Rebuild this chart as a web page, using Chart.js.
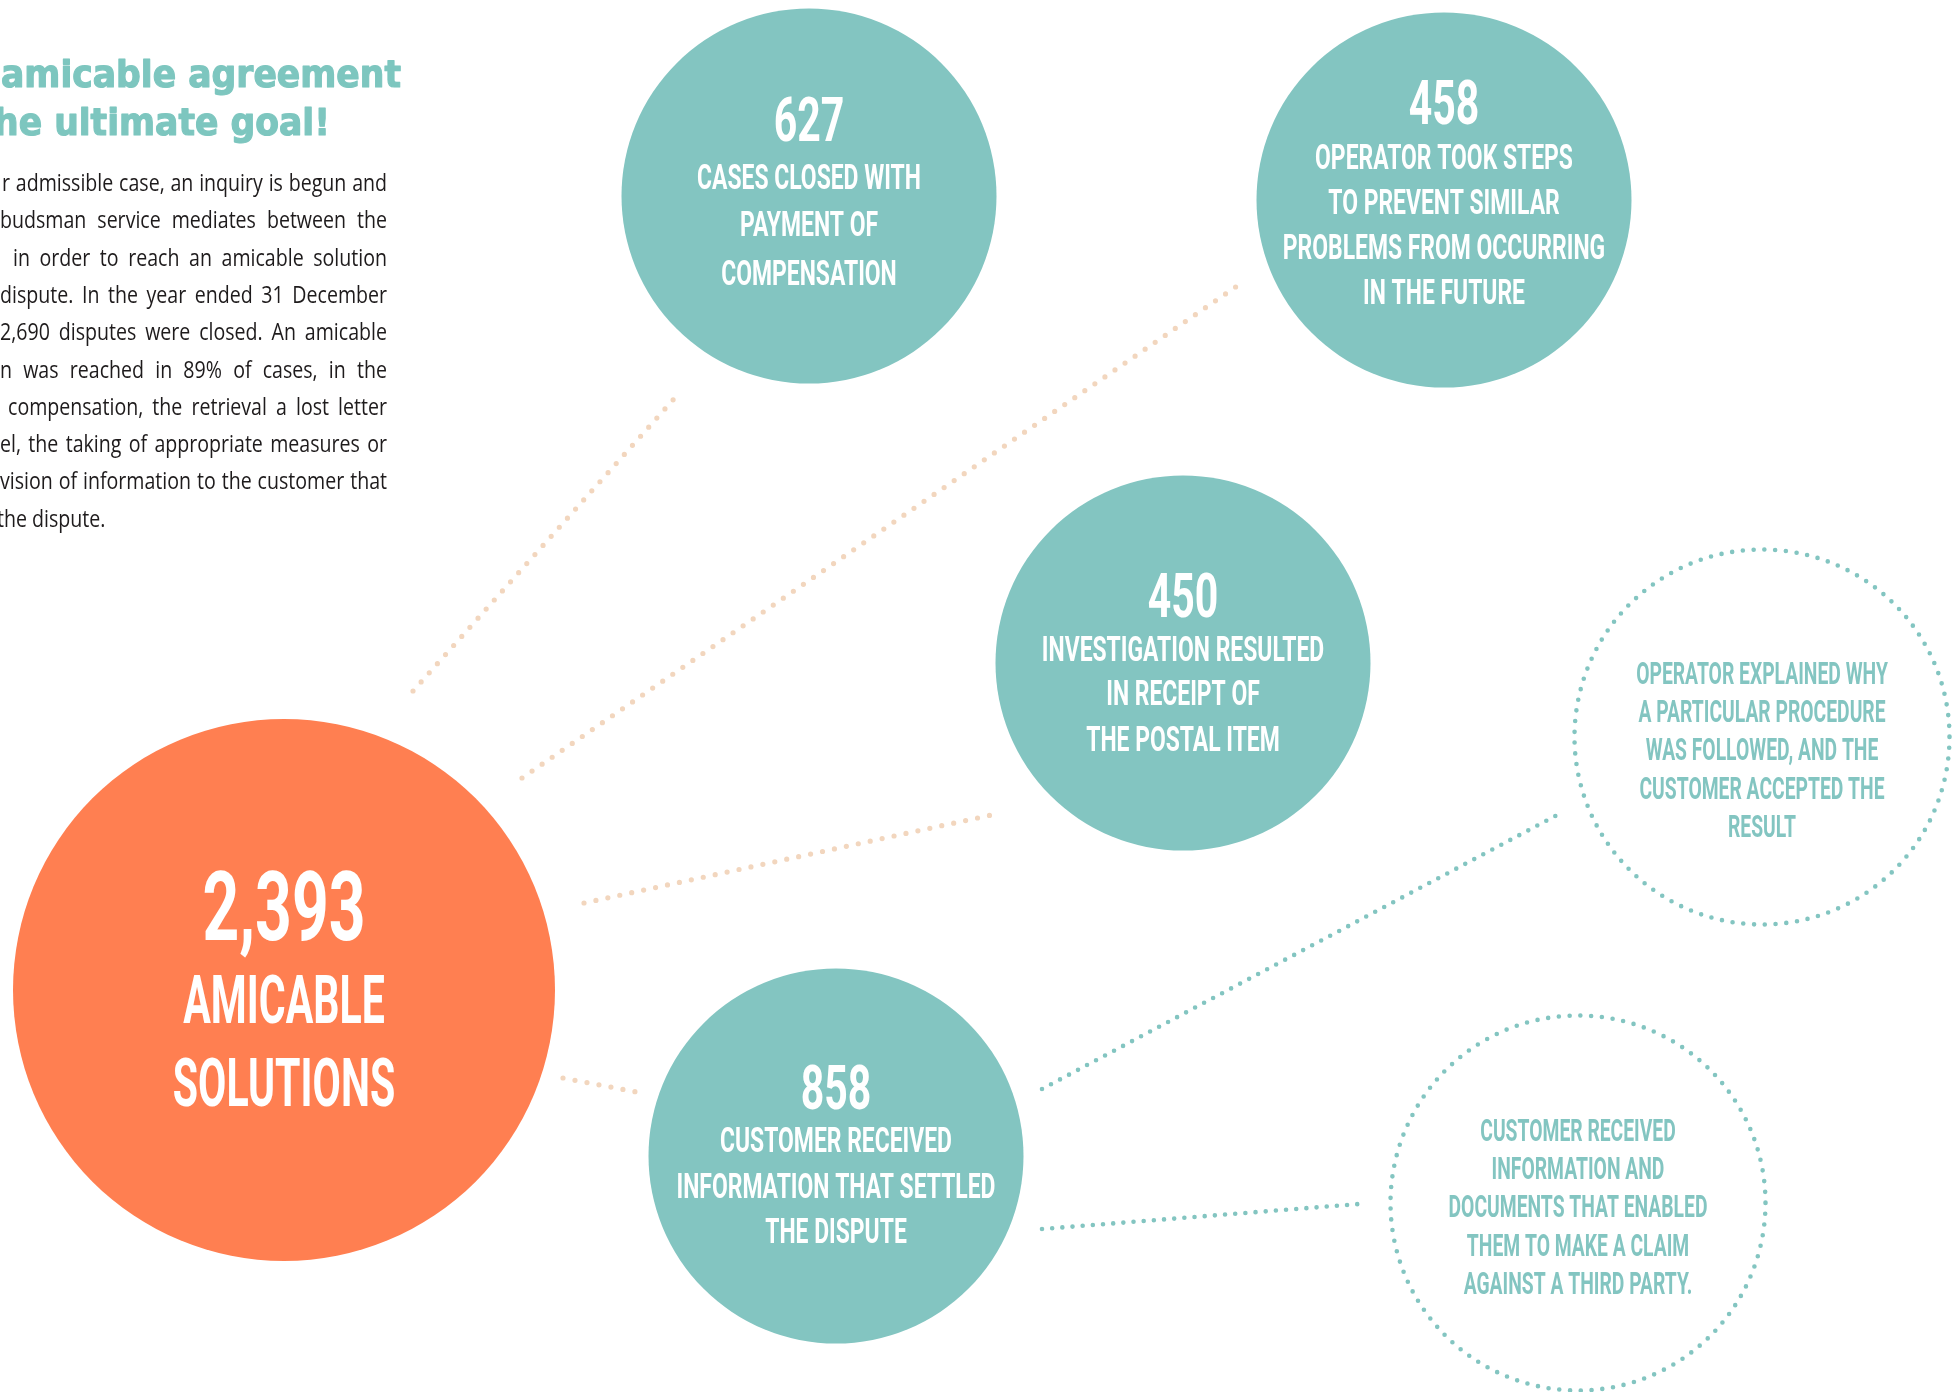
<!DOCTYPE html>
<html><head><meta charset="utf-8">
<script src="https://cdn.jsdelivr.net/npm/chart.js@4/dist/chart.umd.min.js"></script>
<style>html,body{margin:0;padding:0;background:#fff;overflow:hidden}#wrap{width:1959px;height:1392px;position:relative}</style>
</head><body><div id="wrap"><canvas id="c" width="1959" height="1392"></canvas></div>
<script>
// ---------- DATA ----------
const mainCategory = ['AMICABLE', 'SOLUTIONS'];
const mainValue = 2393;
const outcomeCategories = [
  ['CASES CLOSED WITH', 'PAYMENT OF', 'COMPENSATION'],
  ['OPERATOR TOOK STEPS', 'TO PREVENT SIMILAR', 'PROBLEMS FROM OCCURRING', 'IN THE FUTURE'],
  ['INVESTIGATION RESULTED', 'IN RECEIPT OF', 'THE POSTAL ITEM'],
  ['CUSTOMER RECEIVED', 'INFORMATION THAT SETTLED', 'THE DISPUTE']
];
const outcomeValues = [627, 458, 450, 858];
const detailCategories = [
  ['OPERATOR EXPLAINED WHY', 'A PARTICULAR PROCEDURE', 'WAS FOLLOWED, AND THE', 'CUSTOMER ACCEPTED THE', 'RESULT'],
  ['CUSTOMER RECEIVED', 'INFORMATION AND', 'DOCUMENTS THAT ENABLED', 'THEM TO MAKE A CLAIM', 'AGAINST A THIRD PARTY.']
];
const titleLines = ['amicable agreement', 'he ultimate goal!'];
const bodyLines = [
  'r admissible case, an inquiry is begun and',
  'budsman service mediates between the',
  'in order to reach an amicable solution',
  'dispute. In the year ended 31 December',
  '2,690 disputes were closed. An amicable',
  'n was reached in 89% of cases, in the',
  'compensation, the retrieval a lost letter',
  'el, the taking of appropriate measures or',
  'vision of information to the customer that',
  'the dispute.'
];

// ---------- LAYOUT (in scale units) ----------
const mainPos = {x: 284, y: 990};
const outcomePos = [{x: 809, y: 196}, {x: 1444, y: 200}, {x: 1183, y: 663}, {x: 836, y: 1156}];
const detailPos = [{x: 1762, y: 737}, {x: 1578, y: 1203}];
const mainLinks = [
  [{x: 413, y: 691}, {x: 681, y: 391}],
  [{x: 522, y: 778}, {x: 1237, y: 286}],
  [{x: 584, y: 903}, {x: 996, y: 814}],
  [{x: 563, y: 1078}, {x: 642, y: 1093}]
];
const detailLinks = [
  [{x: 1042, y: 1089}, {x: 1559, y: 814}],
  [{x: 1042, y: 1229}, {x: 1359, y: 1204}]
];

// ---------- STYLE ----------
const TEAL = '#83C5C1', ORANGE = '#FF7F51', BEIGE = '#F2D6BE', INK = '#1E1B1C';
const outcomeNumOffset = [-77, -98, -68, -69.5];
const outcomeLineOffsets = [[-20, 27, 76], [-44, 1.5, 46, 91], [-15, 29, 75], [-16.5, 29.5, 74.5]];
const detailLineStart = [-64, -73];
const detailLineStep = 38.2;
const bodyLeft = [2, 0, 13, 0, 0, 0, 8, 0, 0, -3];

const fmt = n => n.toLocaleString('en-US');

function fitScale(ctx, font, refs, target) {
  ctx.save(); ctx.font = font;
  const w = refs.reduce((a, r) => a + ctx.measureText(r).width, 0);
  ctx.restore();
  return target / w;
}
function drawCond(ctx, text, x, yCenter, font, cap, sx, color) {
  ctx.save();
  ctx.font = font; ctx.fillStyle = color; ctx.textAlign = 'center'; ctx.textBaseline = 'alphabetic';
  ctx.translate(x, yCenter + cap / 2);
  ctx.scale(sx, 1);
  ctx.fillText(text, 0, 0);
  ctx.restore();
}

const textPlugin = {
  id: 'texts',
  afterDatasetsDraw(chart) {
    const ctx = chart.ctx;
    const COND = 'Roboto, "DejaVu Sans", sans-serif';
    // dotted detail circles
    const dMeta = chart.getDatasetMeta(2);
    dMeta.data.forEach(el => {
      ctx.save();
      ctx.strokeStyle = TEAL; ctx.lineWidth = 4.6; ctx.lineCap = 'round';
      ctx.setLineDash([0, 10.8]);
      ctx.beginPath(); ctx.arc(el.x, el.y, el.options.radius, 0, Math.PI * 2); ctx.stroke();
      ctx.restore();
    });
    // main circle text
    const m = chart.getDatasetMeta(0).data[0];
    const fNumBig = 'bold 97px ' + COND, fCapBig = 'bold 66px ' + COND;
    drawCond(ctx, fmt(mainValue), m.x, m.y - 84.5, fNumBig, 69, fitScale(ctx, fNumBig, ['2,393'], 163), '#fff');
    const sBig = fitScale(ctx, fCapBig, ['AMICABLE', 'SOLUTIONS'], 202 + 222);
    drawCond(ctx, mainCategory[0], m.x, m.y + 9.5, fCapBig, 47, sBig, '#fff');
    drawCond(ctx, mainCategory[1], m.x, m.y + 92.5, fCapBig, 47, sBig, '#fff');
    // outcome circles
    const fNum = 'bold 62px ' + COND, fCap = 'bold 35px ' + COND;
    const sNum = fitScale(ctx, fNum, ['858', '627'], 141);
    const sCap = fitScale(ctx, fCap,
      ['CASES CLOSED WITH', 'COMPENSATION', 'PROBLEMS FROM OCCURRING', 'INVESTIGATION RESULTED', 'INFORMATION THAT SETTLED', 'CUSTOMER RECEIVED'],
      239 + 182 + 316 + 280 + 310 + 228);
    chart.getDatasetMeta(1).data.forEach((el, i) => {
      drawCond(ctx, fmt(outcomeValues[i]), el.x, el.y + outcomeNumOffset[i], fNum, 44, sNum, '#fff');
      outcomeCategories[i].forEach((t, j) => drawCond(ctx, t, el.x, el.y + outcomeLineOffsets[i][j], fCap, 25, sCap, '#fff'));
    });
    // detail circle text
    const fDet = 'bold 31px ' + COND;
    const sDet = fitScale(ctx, fDet, ['OPERATOR EXPLAINED WHY', 'DOCUMENTS THAT ENABLED', 'CUSTOMER RECEIVED'], 254 + 257 + 195);
    dMeta.data.forEach((el, i) => {
      detailCategories[i].forEach((t, j) => drawCond(ctx, t, el.x, el.y + detailLineStart[i] + j * detailLineStep, fDet, 22, sDet, TEAL));
    });
    // title
    ctx.save();
    const fTitle = 'bold 38px "DejaVu Sans", sans-serif';
    const sT = fitScale(ctx, fTitle, [titleLines[0]], 400);
    ctx.font = fTitle; ctx.fillStyle = '#7DC6BF'; ctx.strokeStyle = '#7DC6BF'; ctx.lineWidth = 1.2; ctx.lineJoin = 'round';
    ctx.textAlign = 'left'; ctx.textBaseline = 'alphabetic';
    [[1, 87], [-6, 135]].forEach((p, i) => {
      ctx.save(); ctx.translate(p[0], p[1]); ctx.scale(sT, 1);
      ctx.fillText(titleLines[i], 0, 0); ctx.strokeText(titleLines[i], 0, 0); ctx.restore();
    });
    ctx.restore();
    // body paragraph (justified, horizontally condensed)
    ctx.save();
    ctx.font = '24px "Open Sans", sans-serif';
    ctx.fillStyle = INK; ctx.textBaseline = 'alphabetic'; ctx.textAlign = 'left';
    const R = 387;
    let sx = 1;
    bodyLines.forEach((line, i) => {
      if (i === bodyLines.length - 1) return;
      sx = Math.min(sx, (R - bodyLeft[i]) / (ctx.measureText(line).width + 6));
    });
    const spaceW = ctx.measureText(' ').width;
    bodyLines.forEach((line, i) => {
      const y = 191 + i * 37.3;
      const L = bodyLeft[i];
      const words = line.split(' ');
      ctx.save(); ctx.translate(L, y); ctx.scale(sx, 1);
      if (i === bodyLines.length - 1 || words.length < 2) { ctx.fillText(line, 0, 0); ctx.restore(); return; }
      const widths = words.map(w => ctx.measureText(w).width);
      const sum = widths.reduce((a, b) => a + b, 0);
      const gap = Math.max(spaceW * 0.6, ((R - L) / sx - sum) / (words.length - 1));
      let x = 0;
      words.forEach((w, k) => { ctx.fillText(w, x, 0); x += widths[k] + gap; });
      ctx.restore();
    });
    ctx.restore();
  }
};

const linkDataset = (seg, color, width, step) => ({
  type: 'line', data: seg, borderColor: color, borderWidth: width, borderDash: [0, step],
  borderCapStyle: 'round', pointRadius: 0, fill: false, tension: 0, clip: false, order: 10
});

const datasets = [
  { type: 'bubble', label: 'Amicable solutions', data: [{x: mainPos.x, y: mainPos.y}], radius: 271,
    backgroundColor: ORANGE, borderWidth: 0, clip: false, order: 1 },
  { type: 'bubble', label: 'Outcomes', data: outcomePos.map(p => ({x: p.x, y: p.y})), radius: 187.5,
    backgroundColor: TEAL, borderWidth: 0, clip: false, order: 2 },
  { type: 'bubble', label: 'Details', data: detailPos.map(p => ({x: p.x, y: p.y})), radius: 187.5,
    backgroundColor: 'rgba(0,0,0,0)', borderWidth: 0, clip: false, order: 3 },
  ...mainLinks.map(s => linkDataset(s, BEIGE, 5.2, 12.2)),
  ...detailLinks.map(s => linkDataset(s, TEAL, 4.6, 10.2))
];

new Chart(document.getElementById('c'), {
  type: 'bubble',
  data: { datasets },
  options: {
    responsive: false, animation: false, devicePixelRatio: 1, events: [],
    layout: { padding: 0, autoPadding: false },
    plugins: { legend: { display: false }, tooltip: { enabled: false } },
    scales: {
      x: { type: 'linear', min: 0, max: 1959, display: false },
      y: { type: 'linear', min: 0, max: 1392, reverse: true, display: false }
    }
  },
  plugins: [textPlugin]
});
</script></body></html>
